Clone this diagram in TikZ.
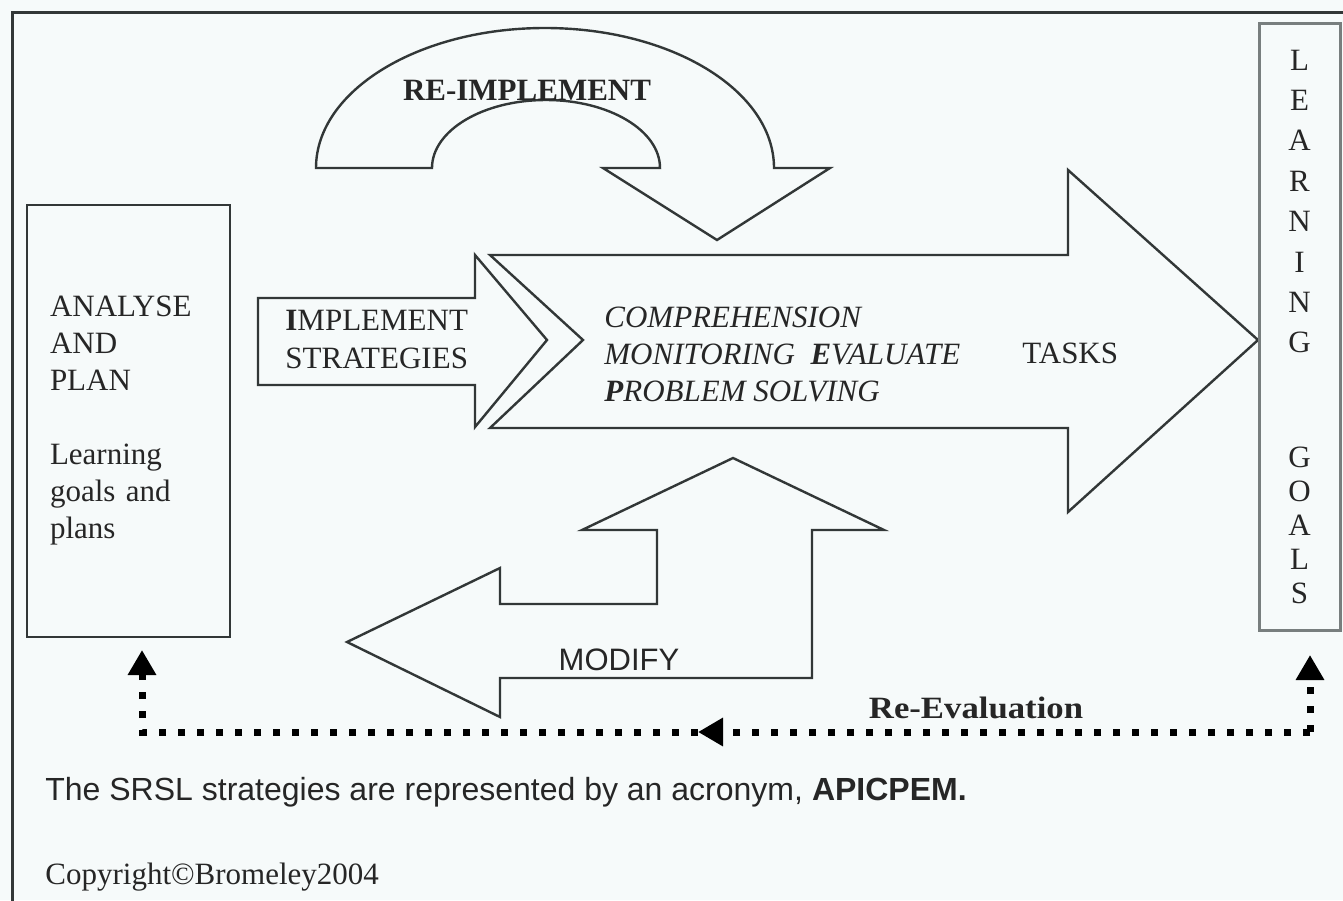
\documentclass[tikz,border=0pt]{standalone}
\usepackage{fontspec}
\setmainfont{Liberation Serif}
\setsansfont{Liberation Sans}
\usepackage{graphicx}
\usetikzlibrary{arrows.meta,positioning}

\definecolor{paper}{RGB}{246,250,250}
\definecolor{ink}{RGB}{50,55,55}
\definecolor{boxgray}{RGB}{120,126,126}
\newcommand{\diagfont}{\fontsize{15.5}{18.5}\selectfont}

\begin{document}
\begin{tikzpicture}[x=0.5pt, y=-0.5pt,
    every node/.style={inner sep=0pt, text=black!85, font=\diagfont},
    blockarrow/.style={draw=ink, line width=1.2pt, fill=paper, line join=miter},
    dotline/.style={line width=3.5pt, dash pattern=on 3.5pt off 6pt},
    dothead/.style={-{Triangle[length=12.5pt,width=13.5pt]}}]
    \useasboundingbox (0,0) rectangle (1343,900);
    \fill[paper] (0,0) rectangle (1343,900);
    \draw[ink, line width=1.5pt] (12,12) rectangle (1360,915);

    % Block arrows
    \draw[blockarrow] (316,168) arc[start angle=180, end angle=0, x radius=114.5pt, y radius=70pt]
        -- (830,168) -- (717,240) -- (603,168) -- (660,168)
        arc[start angle=0, end angle=180, x radius=57pt, y radius=34pt] -- cycle;
    \draw[blockarrow] (258,298) -- (475,298) -- (475,255) -- (547,340) -- (475,427) -- (475,385) -- (258,385) -- cycle;
    \draw[blockarrow] (490,255) -- (1068,255) -- (1068,170) -- (1258,340) -- (1068,512) -- (1068,428) -- (490,428) -- (583,340) -- cycle;
    \draw[blockarrow] (733,458) -- (884,530) -- (812,530) -- (812,678) -- (500,678) -- (500,717) -- (347,642)
        -- (500,568) -- (500,604) -- (657,604) -- (657,530) -- (582,530) -- cycle;

    % Boxes
    \node[draw=ink, line width=1.3pt, minimum width=101.5pt, minimum height=216pt, text width=78.5pt, align=left]
        (analyse) at (128.5,421) {ANALYSE\\AND\\PLAN\\[18.5pt]Learning\\goals and\\plans};
    \node[draw=boxgray, line width=1.5pt, minimum width=40.5pt, minimum height=303.5pt, align=center,
        font=\fontsize{15.5}{20.2}\selectfont]
        (goals) at (1299.5,326.5) {L\\E\\A\\R\\N\\I\\N\\G\\[37.3pt]G\\[-3.3pt]O\\[-3.3pt]A\\[-3.3pt]L\\[-3.3pt]S};

    % Labels
    \node[anchor=north west, align=left, font=\fontsize{15.5}{19}\selectfont] (implement) at (285,310) {\textbf{I}MPLEMENT\\STRATEGIES};
    \node[anchor=north west, align=left, font=\diagfont\itshape] (tasklist) at (604,307)
        {COMPREHENSION\\MONITORING\ \ \textbf{E}VALUATE\\\textbf{P}ROBLEM SOLVING};
    \node[anchor=base west] (tasks) at (1022,363) {TASKS};
    \node[anchor=base, font=\diagfont\bfseries] (reimpl) at (527,100) {RE-IMPLEMENT};
    \node[anchor=base, font=\diagfont\sffamily] (modify) at (619,670) {MODIFY};
    \node[anchor=base, font=\diagfont\bfseries] (reeval) at (976,718) {\scalebox{1.12}[1]{Re-Evaluation}};
    \node[anchor=base west, font=\fontsize{16}{19}\selectfont\sffamily] (note) at (45,800)
        {The SRSL strategies are represented by an acronym, \textbf{APICPEM.}};
    \node[anchor=base west] (copyright) at (45,884) {Copyright©Bromeley2004};

    % Re-evaluation loop
    \coordinate (leftTip) at (142,650);
    \coordinate (leftCorner) at (142,732);
    \coordinate (midTip) at (698,732);
    \coordinate (rightCorner) at (1310,732);
    \coordinate (rightTip) at (1310,655);
    \draw[dotline, dothead] (rightCorner) -- (midTip);
    \draw[dotline, dothead] (midTip) -- (leftCorner) -- (leftTip);
    \draw[dotline, dothead] (rightCorner) -- (rightTip);
\end{tikzpicture}
\end{document}
